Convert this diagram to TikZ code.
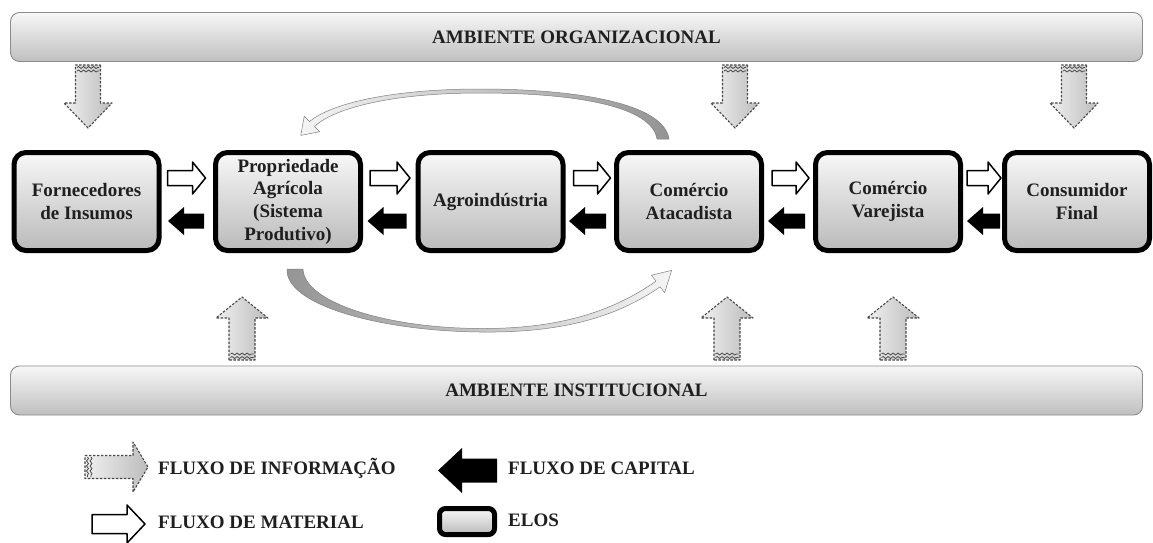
\documentclass[tikz,border=0pt]{standalone}
\usepackage{fontspec}
\setmainfont{Liberation Serif}
\usetikzlibrary{calc,decorations.pathmorphing}

\newcommand\elofont{\fontsize{19}{22.7}\selectfont\bfseries}
\newcommand\titlefont{\fontsize{19}{22}\selectfont\bfseries}

% #1 style, #2 tail point, #3 angle, #4 length, #5 shaft half-width, #6 head half-width, #7 head length
\newcommand\blockarr[7]{%
  \begin{scope}[shift={#2},rotate=#3]
    \path[#1] (0,-#5) -- ({#4-#7},-#5) -- ({#4-#7},-#6) -- (#4,0) -- ({#4-#7},#6) -- ({#4-#7},#5) -- (0,#5) -- cycle;
  \end{scope}}

\tikzset{
  elo/.style={draw=black, line width=5pt, rounded corners=12pt, top color=black!3, bottom color=black!27,
    minimum width=145pt, minimum height=98pt, align=center, inner sep=0pt, font=\elofont},
  envbar/.style={draw=black!45, line width=0.9pt, rounded corners=9pt, top color=black!3, bottom color=black!25,
    minimum width=1132pt, minimum height=49pt, inner sep=0pt},
  infoarrow/.style={draw=black!72, line width=1.1pt, dash pattern=on 2.4pt off 1.6pt, left color=black!6, right color=black!26},
  matarrow/.style={draw=black, line width=1.5pt, fill=white},
  caparrow/.style={fill=black},
  wavy/.style={draw=black!70, line width=0.8pt, decorate, decoration={snake, amplitude=1pt, segment length=5pt}},
  curvearrow/.style={draw=black!50, line width=0.5pt},
  legtext/.style={anchor=base west, inner sep=0pt, font=\titlefont}
}

\begin{document}
\begin{tikzpicture}[x=1pt,y=-1pt, line join=round, every node/.style={text=black!88}]
\useasboundingbox (0,0) rectangle (1153,542);
\fill[white] (0,0) rectangle (1153,542);

% environment bars
\node[envbar] (top) at (576.5,37) {\titlefont AMBIENTE ORGANIZACIONAL};
\node[envbar] (bot) at (576.5,390.5) {\titlefont AMBIENTE INSTITUCIONAL};

% links (elos)
\node[elo] (b1) at (86.5,201.5) {Fornecedores\\de Insumos};
\node[elo] (b2) at (288,201.5) {Propriedade\\Agrícola\\(Sistema\\Produtivo)};
\node[elo] (b3) at (490.5,201.5) {Agroindústria};
\node[elo] (b4) at (689,201.5) {Comércio\\Atacadista};
\node[elo] (b5) at (888,201.5) {Comércio\\Varejista};
\node[elo] (b6) at (1077,201.5) {Consumidor\\Final};

% material flow (white arrows)
\blockarr{matarrow}{($(b1.east)+(6,-23.5)$)}{0}{38}{7.5}{16}{13}
\blockarr{matarrow}{($(b2.east)+(7,-23.5)$)}{0}{40}{7.5}{16}{13}
\blockarr{matarrow}{($(b3.east)+(8,-23.5)$)}{0}{37}{7.5}{16}{13}
\blockarr{matarrow}{($(b4.east)+(8,-23.5)$)}{0}{37}{7.5}{16}{13}
\blockarr{matarrow}{($(b5.east)+(4,-23.5)$)}{0}{34}{7.5}{16}{13}

% capital flow (black arrows)
\blockarr{caparrow}{($(b2.west)+(-9,19.5)$)}{180}{36}{7.5}{14}{16}
\blockarr{caparrow}{($(b3.west)+(-9,19.5)$)}{180}{39}{7.5}{14}{16}
\blockarr{caparrow}{($(b4.west)+(-8,19.5)$)}{180}{37}{7.5}{14}{16}
\blockarr{caparrow}{($(b5.west)+(-8,19.5)$)}{180}{37}{7.5}{14}{16}
\blockarr{caparrow}{($(b6.west)+(-2,19.5)$)}{180}{33}{7.5}{14}{16}

% information flow from organizational environment (down)
\foreach \cx in {88,735,1074}{
  \blockarr{infoarrow}{(\cx,65)}{-90}{63}{12.5}{24}{25}
  \draw[wavy] (\cx-11,67.5) -- (\cx+11,67.5);
  \draw[wavy] (\cx-11,71) -- (\cx+11,71);
}
% information flow from institutional environment (up)
\foreach \cx in {242,727,893}{
  \blockarr{infoarrow}{(\cx,360)}{90}{63}{13}{26}{21}
  \draw[wavy] (\cx-11.5,357.5) -- (\cx+11.5,357.5);
  \draw[wavy] (\cx-11.5,354) -- (\cx+11.5,354);
}

% curved information arrows
\path[curvearrow, left color=black!4, right color=black!42]
  (669,139) .. controls (664,104) and (580,89) .. (480,89)
  .. controls (390,89) and (330,104) .. (309.5,121.6)
  -- (304.2,116.3) -- (300.8,135.4) -- (319.8,131.7) -- (314.5,126.5)
  .. controls (334,108) and (392,93) .. (480,93)
  .. controls (575,93) and (652,106) .. (657,139) -- cycle;

\path[curvearrow, left color=black!42, right color=black!4]
  (287,269) .. controls (285,305) and (380,331) .. (480,332)
  .. controls (560,333) and (615,318) .. (660.1,286.8)
  -- (664.6,292.8) -- (671.6,270.4) -- (651.4,275.2) -- (655.9,281.2)
  .. controls (612,312) and (558,329) .. (480,328.5)
  .. controls (385,328) and (304,302) .. (303,269) -- cycle;

% legend
\blockarr{infoarrow}{(85,467)}{0}{63}{11.5}{25}{15}
\draw[wavy] (87.5,457) -- (87.5,477);
\draw[wavy] (91,457) -- (91,477);
\node[legtext] (l1) at (158,474) {FLUXO DE INFORMAÇÃO};

\blockarr{matarrow}{(92,524)}{0}{53}{9.5}{19}{18}
\node[legtext] (l2) at (158,528) {FLUXO DE MATERIAL};

\blockarr{caparrow}{(497,470.5)}{180}{59}{12}{22.5}{24}
\node[legtext] (l3) at (508,474) {FLUXO DE CAPITAL};

\node[draw=black, line width=5pt, rounded corners=6pt, top color=black!3, bottom color=black!27,
  minimum width=55pt, minimum height=26pt, inner sep=0pt] (le) at (467,521.5) {};
\node[legtext] (l4) at (508,526) {ELOS};
\end{tikzpicture}
\end{document}
